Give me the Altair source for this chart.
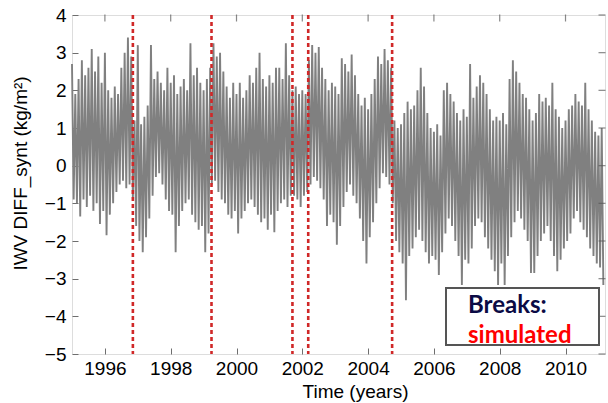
import altair as alt
import pandas as pd

# Envelope readings of the dense daily series, one pair every 0.1 year from 1995.0
START_YEAR = 1995.0
STEP = 0.1
HI = [
    2.7, 1.9, 2.3, 2.8, 2.4, 2.6, 3.1, 2.5, 2.9, 2.2,    # 1995
    3.0, 2.0, 1.8, 2.1, 1.9, 2.6, 3.0, 3.4, 2.9, 1.2,    # 1996
    3.2, 1.1, 1.3, 1.6, 3.2, 2.3, 2.5, 2.2, 2.0, 2.6,    # 1997
    2.2, 2.4, 1.9, 2.1, 2.3, 2.0, 3.25, 2.4, 2.6, 2.2,   # 1998
    2.0, 2.3, 2.6, 3.25, 2.9, 3.0, 2.5, 2.1, 1.8, 2.2,   # 1999
    1.9, 2.2, 1.8, 2.0, 2.4, 2.2, 2.6, 3.0, 2.3, 2.1,    # 2000
    2.4, 2.2, 2.6, 2.6, 2.3, 3.25, 2.4, 2.0, 2.1, 1.9,   # 2001
    2.0, 1.9, 2.8, 3.2, 3.0, 3.15, 2.6, 2.3, 2.0, 2.2,   # 2002
    2.1, 1.9, 2.85, 2.7, 2.5, 2.95, 2.4, 1.9, 1.6, 1.8,  # 2003
    1.5, 1.9, 2.3, 2.9, 2.7, 3.1, 2.8, 2.6, 1.2, 1.0,    # 2004
    1.1, 1.4, 1.7, 1.5, 1.6, 2.0, 2.6, 2.1, 1.4, 1.0,    # 2005
    0.9, 1.1, 0.8, 2.0, 2.2, 1.9, 1.7, 1.4, 1.2, 1.5,    # 2006
    1.3, 2.7, 1.8, 2.1, 2.4, 2.2, 1.9, 1.5, 1.2, 1.3,    # 2007
    1.2, 1.4, 1.1, 2.3, 2.8, 2.5, 2.2, 1.9, 1.8, 1.5,    # 2008
    1.2, 1.4, 1.9, 1.7, 1.8, 1.6, 2.2, 1.5, 1.3, 1.0,    # 2009
    1.2, 1.5, 1.6, 1.9, 1.7, 1.6, 2.2, 1.5, 1.2, 0.9,    # 2010
    0.8, 1.0,                                            # 2011
]
LO = [
    -0.9, -1.0, -1.35, -0.9, -1.1, -0.8, -1.2, -1.0, -1.55, -1.2,   # 1995
    -1.85, -1.3, -1.0, -0.7, -0.5, -0.4, -0.6, -0.5, -0.9, -1.6,    # 1996
    -2.0, -2.3, -1.9, -1.4, -0.8, -0.3, -0.2, -0.5, -0.9, -1.2,     # 1997
    -1.3, -2.3, -1.6, -1.2, -1.0, -0.9, -1.3, -1.5, -1.7, -1.6,     # 1998
    -2.3, -1.8, -0.5, -0.4, -0.7, -0.9, -1.0, -1.3, -1.4, -1.2,     # 1999
    -1.8, -1.4, -1.2, -1.0, -0.9, -1.1, -1.3, -1.5, -1.4, -1.7,     # 2000
    -1.3, -1.77, -1.2, -1.0, -0.9, -1.1, -0.8, -0.8, -0.9, -1.1,    # 2001
    -0.8, -0.7, -0.5, -0.3, -0.4, -0.6, -0.9, -1.6, -1.3, -1.5,     # 2002
    -2.1, -1.6, -1.1, -0.7, -0.5, -0.8, -1.0, -1.4, -2.0, -2.6,     # 2003
    -1.9, -1.5, -1.0, -0.6, -0.2, -0.3, -0.5, -1.0, -2.0, -2.3,     # 2004
    -2.6, -3.57, -2.4, -2.2, -1.9, -1.7, -2.0, -2.3, -2.6, -2.4,    # 2005
    -2.5, -2.9, -2.3, -1.8, -1.4, -1.6, -2.0, -2.4, -3.17, -2.5,    # 2006
    -2.6, -2.2, -1.6, -1.4, -1.5, -1.9, -2.2, -2.5, -2.8, -3.17,    # 2007
    -2.6, -3.17, -2.4, -1.9, -1.5, -1.2, -1.4, -1.7, -2.0, -2.85,   # 2008
    -2.85, -2.4, -2.0, -1.8, -1.6, -2.0, -2.4, -2.8, -2.5, -2.2,    # 2009
    -2.0, -1.8, -1.4, -1.2, -1.5, -1.7, -1.9, -2.2, -2.4, -2.6,     # 2010
    -2.7, -3.17,                                                    # 2011
]
BREAKS = [1996.85, 1999.24, 2001.70, 2002.18, 2004.73]
X_TICKS = [1996, 1998, 2000, 2002, 2004, 2006, 2008, 2010]
Y_TICKS = [-5, -4, -3, -2, -1, 0, 1, 2, 3, 4]
X_DOMAIN = [1995.0, 2011.2]
Y_DOMAIN = [-5, 4]
X_TITLE = "Time (years)"
Y_TITLE = "IWV DIFF_synt (kg/m\u00b2)"
LEGEND_TITLE = "Breaks:"
LEGEND_ITEM = "simulated"

rows = []
for i, (h, l) in enumerate(zip(HI, LO)):
    t = START_YEAR + STEP * i
    rows.append({"t": round(t, 3), "v": h})
    rows.append({"t": round(t + STEP / 2, 3), "v": l})
series = pd.DataFrame(rows)

FONT = "Liberation Sans"
GRAY = "#6e6e6e"
W, H = 533, 339

xs = alt.Scale(domain=X_DOMAIN, nice=False, zero=False)
ys = alt.Scale(domain=Y_DOMAIN, nice=False, zero=False)

line = alt.Chart(series).mark_line(color="#808080", strokeWidth=1.9).encode(
    x=alt.X("t:Q", scale=xs, axis=alt.Axis(
        values=X_TICKS, format="d", title=X_TITLE, offset=-6, tickSize=6,
        domain=False, grid=False, tickColor=GRAY, labelPadding=5,
        labelFont=FONT, labelFontSize=19, labelColor="black",
        titleFont=FONT, titleFontSize=19, titleFontWeight="normal",
        titleColor="black", titlePadding=4, titleX=283)),
    y=alt.Y("v:Q", scale=ys, axis=alt.Axis(
        values=Y_TICKS, title=Y_TITLE, offset=-6, tickSize=6,
        domain=False, grid=False, tickColor=GRAY, labelPadding=6,
        labelFont=FONT, labelFontSize=19, labelColor="black",
        titleFont=FONT, titleFontSize=19, titleFontWeight="normal",
        titleColor="black", titlePadding=14, titleY=158)),
)

# mirrored inward ticks on the top and right edges of the box
top_ticks = alt.Chart(pd.DataFrame({"xt": X_TICKS})).mark_tick(
    color="#555555", thickness=1.2, size=7, orient="vertical"
).encode(x=alt.X("xt:Q", scale=xs, axis=None), y=alt.value(3))
right_ticks = alt.Chart(pd.DataFrame({"yt": Y_TICKS})).mark_tick(
    color="#555555", thickness=1.2, size=7, orient="horizontal"
).encode(y=alt.Y("yt:Q", scale=ys, axis=None), x=alt.value(W - 3))

breaks = alt.Chart(pd.DataFrame({"b": BREAKS})).mark_rule(
    color="#d02828", strokeDash=[4, 3], strokeWidth=2.6
).encode(x=alt.X("b:Q", scale=xs, axis=None))

one = pd.DataFrame({"title": [LEGEND_TITLE], "item": [LEGEND_ITEM]})
box = alt.Chart(one).mark_rect(fill="white", stroke="#555555", strokeWidth=2).encode(
    x=alt.value(374), x2=alt.value(527), y=alt.value(273), y2=alt.value(330)
)
t1 = alt.Chart(one).mark_text(
    align="left", baseline="alphabetic", font="Lato", fontSize=24,
    fontWeight="bold", color="#0b0b45"
).encode(x=alt.value(396), y=alt.value(298), text="title:N")
t2 = alt.Chart(one).mark_text(
    align="left", baseline="alphabetic", font="Lato", fontSize=24,
    fontWeight="bold", color="#ff0000"
).encode(x=alt.value(396), y=alt.value(328), text="item:N")

chart = alt.layer(line, breaks, top_ticks, right_ticks, box, t1, t2).resolve_axis(
    x="independent", y="independent"
).properties(
    width=W, height=H,
    autosize=alt.AutoSizeParams(type="none"),
    padding={"left": 72, "top": 15, "right": 3, "bottom": 49},
).configure_view(stroke=GRAY, strokeWidth=1.5).configure(background="white")

chart.save("out.html", embed_options={"renderer": "svg", "actions": False})
